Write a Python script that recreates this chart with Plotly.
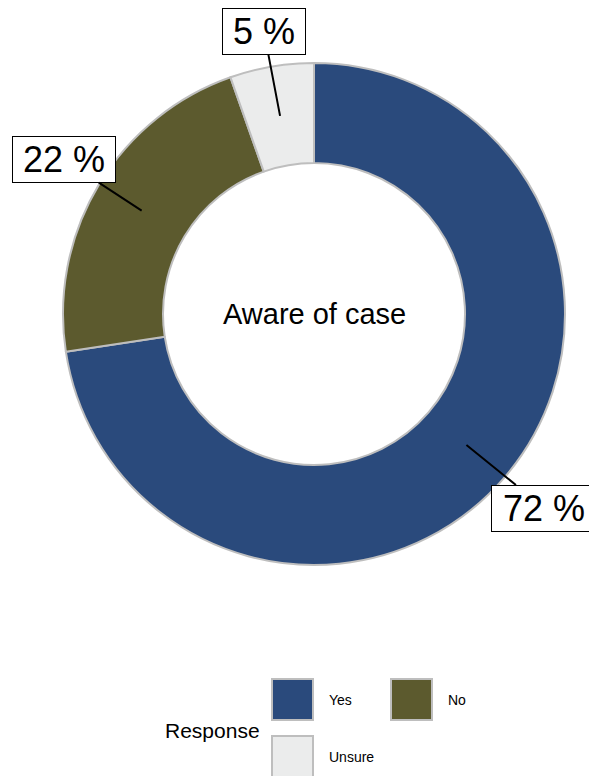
import math
import plotly.graph_objects as go

# ---- data ----
categories = ["Yes", "No", "Unsure"]
shares = [72.6, 22.0, 5.4]
label_texts = ["72 %", "22 %", "5 %"]
colors = ["#2A4A7C", "#5C5A2E", "#EBECEC"]
center_label = "Aware of case"
legend_title = "Response"

W, H = 589, 776
CX, CY = 314, 314          # pie centre (px)
R_OUT, R_IN = 251, 151     # radii (px)
FONT = "Liberation Sans, Arial, sans-serif"
BORDER = "#BEBEBE"

def px(x):
    return x / W

def py(y):
    return 1 - y / H

fig = go.Figure()
fig.add_trace(go.Pie(
    labels=categories, values=shares, sort=False, direction="clockwise",
    rotation=0, hole=R_IN / R_OUT, textinfo="none", hoverinfo="label+percent",
    marker=dict(colors=colors, line=dict(color=BORDER, width=2)),
    domain=dict(x=[px(CX - R_OUT), px(CX + R_OUT)], y=[py(CY + R_OUT), py(CY - R_OUT)]),
    showlegend=False,
))

annotations = []
shapes = []

# percentage labels with leader lines starting at ring middle
label_offsets = [(78, 63), (-78, -51), (-16, -84)]
label_widths = [102, 100, 80]
total = sum(shares)
cum = 0.0
r_mid = (R_OUT + R_IN) / 2
for v, t, off, w in zip(shares, label_texts, label_offsets, label_widths):
    mid = (cum + v / 2) / total * 2 * math.pi
    cum += v
    x0 = CX + r_mid * math.sin(mid)
    y0 = CY - r_mid * math.cos(mid)
    annotations.append(dict(
        x=px(x0), y=py(y0), xref="paper", yref="paper", text=t,
        showarrow=True, arrowhead=0, arrowwidth=2, arrowcolor="black",
        ax=off[0], ay=off[1], standoff=0, startstandoff=0,
        font=dict(family=FONT, size=36, color="black"),
        bgcolor="white", bordercolor="black", borderwidth=1, borderpad=1,
        width=w, height=43,
    ))

annotations.append(dict(
    x=px(CX), y=py(CY), xref="paper", yref="paper", text=center_label,
    showarrow=False, font=dict(family=FONT, size=29, color="black"),
))

# manual legend
annotations.append(dict(
    x=px(163), y=py(730), xref="paper", yref="paper", text=legend_title,
    showarrow=False, xanchor="left", yanchor="middle",
    font=dict(family=FONT, size=21, color="black"),
))
key_pos = [(272, 679), (391, 679), (272, 736)]
KEY = 41
for cat, col, (kx, ky) in zip(categories, colors, key_pos):
    shapes.append(dict(
        type="rect", xref="paper", yref="paper",
        x0=px(kx), x1=px(kx + KEY), y0=py(ky + KEY), y1=py(ky),
        fillcolor=col, line=dict(color=BORDER, width=2),
    ))
    annotations.append(dict(
        x=px(kx + KEY + 14), y=py(ky + KEY / 2), xref="paper", yref="paper",
        text=cat, showarrow=False, xanchor="left", yanchor="middle",
        font=dict(family=FONT, size=14, color="black"),
    ))

fig.update_layout(
    width=W, height=H, autosize=False,
    margin=dict(l=0, r=0, t=0, b=0),
    paper_bgcolor="white", plot_bgcolor="white",
    annotations=annotations, shapes=shapes,
)

fig.write_html(
    "out.html",
    config={"displayModeBar": False},
    post_script="document.body.style.margin='0px';",
)
